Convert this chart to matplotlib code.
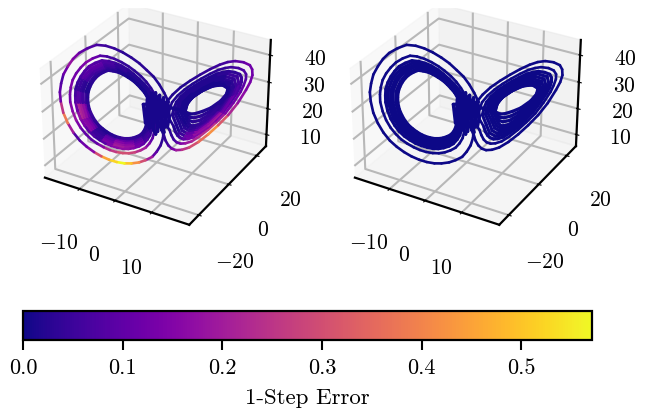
import numpy as np
import matplotlib
matplotlib.use("Agg")
import matplotlib.pyplot as plt
from matplotlib.cm import ScalarMappable
from matplotlib.colors import Normalize
from matplotlib.patches import Rectangle
from matplotlib.transforms import ScaledTranslation
from mpl_toolkits.mplot3d.art3d import Line3DCollection

plt.rcParams["font.family"] = "cmr10"
plt.rcParams["mathtext.fontset"] = "cm"
plt.rcParams["axes.unicode_minus"] = False

# attractor path, one row per turn (left lobe, right lobe, centre passes)
traj_x = [
    1.4, 1.3, 0.8, 0.0, -0.9, -2.2, -3.5, -5.0, -6.4, -7.9, -9.4, -10.9, -12.3, -13.7, -15.0, -16.2, -17.2, -18.0, -18.4, -18.5, -18.2, -17.7, -16.8, -15.8, -14.6, -13.0, -11.3, -9.6, -8.0, -6.4, -4.8, -3.3, -1.9, -0.6, 0.5, 1.5, 2.4,
    -0.3, -0.5, -0.8, -1.4, -2.2, -3.2, -4.3, -5.5, -6.7, -8.0, -9.2, -10.4, -11.6, -12.8, -13.8, -14.8, -15.6, -16.2, -16.6, -16.6, -16.4, -16.0, -15.3, -14.4, -13.4, -12.1, -10.7, -9.4, -8.0, -6.7, -5.4, -4.2, -3.0, -2.0, -1.1, -0.3, 0.5,
    -1.3, -1.4, -1.7, -2.2, -2.9, -3.7, -4.7, -5.7, -6.7, -7.7, -8.8, -9.9, -10.9, -11.9, -12.8, -13.6, -14.3, -14.8, -15.1, -15.1, -15.0, -14.6, -14.0, -13.3, -12.5, -11.4, -10.2, -9.0, -7.9, -6.7, -5.6, -4.6, -3.6, -2.7, -1.9, -1.2, -0.6,
    -1.6, -2.0, -3.1, -4.8, -6.7, -8.7, -10.6, -12.4, -13.8, -14.6, -14.5, -13.6, -12.1, -9.9, -7.8, -5.7, -3.7, -2.2, -0.9,
    -1.8, -2.2, -3.3, -4.9, -6.7, -8.5, -10.3, -12.0, -13.4, -14.1, -14.0, -13.1, -11.8, -9.7, -7.7, -5.7, -3.9, -2.4, -1.2,
    -2.1, -2.5, -3.5, -5.0, -6.7, -8.4, -10.1, -11.6, -12.9, -13.6, -13.5, -12.7, -11.4, -9.5, -7.6, -5.7, -4.0, -2.7, -1.6,
    -2.3, -2.6, -3.6, -5.0, -6.5, -8.1, -9.7, -11.2, -12.4, -13.0, -12.9, -12.1, -11.0, -9.2, -7.4, -5.7, -4.1, -2.8, -1.8,
    -2.6, -2.7, -2.9, -3.2, -3.7, -4.3, -5.0, -5.7, -6.5, -7.3, -8.0, -8.7, -9.4, -10.1, -10.8, -11.4, -11.9, -12.3, -12.5, -12.5, -12.4, -12.1, -11.7, -11.2, -10.6, -9.8, -9.0, -8.2, -7.3, -6.5, -5.7, -4.9, -4.2, -3.6, -3.0, -2.5, -2.1,
    1.4, 1.8, 2.4, 3.1, 4.0, 5.2, 6.7, 8.6, 10.6, 12.6, 14.6, 16.5, 18.1, 18.9, 19.3, 19.2, 18.7, 17.4, 15.7, 14.2, 12.6, 10.7, 8.7, 6.7, 4.8, 3.2, 2.0, 1.3, 1.0,
    2.6, 3.0, 3.5, 4.1, 4.9, 5.9, 7.2, 8.8, 10.5, 12.2, 14.0, 15.6, 17.0, 17.6, 18.0, 18.0, 17.5, 16.4, 14.9, 13.7, 12.3, 10.7, 8.9, 7.2, 5.6, 4.2, 3.1, 2.6, 2.3,
    3.5, 3.8, 4.3, 4.8, 5.5, 6.4, 7.5, 8.9, 10.5, 12.0, 13.5, 14.9, 16.2, 16.8, 17.1, 17.1, 16.7, 15.7, 14.4, 13.3, 12.0, 10.6, 9.1, 7.6, 6.1, 4.9, 4.0, 3.5, 3.2,
    4.0, 4.7, 5.9, 7.7, 10.5, 13.3, 15.7, 16.6, 16.2, 14.1, 11.9, 9.1, 6.4, 4.5, 3.8,
    4.6, 5.2, 6.2, 8.0, 10.5, 13.0, 15.3, 16.0, 15.6, 13.7, 11.7, 9.2, 6.7, 5.0, 4.3,
    5.1, 5.7, 6.6, 8.2, 10.4, 12.8, 14.8, 15.5, 15.1, 13.4, 11.6, 9.3, 7.1, 5.4, 4.9,
    5.5, 6.1, 6.9, 8.3, 10.4, 12.5, 14.4, 15.0, 14.7, 13.1, 11.5, 9.4, 7.3, 5.9, 5.3,
    6.0, 6.2, 6.5, 6.8, 7.2, 7.8, 8.5, 9.4, 10.4, 11.4, 12.3, 13.2, 14.0, 14.4, 14.6, 14.5, 14.3, 13.6, 12.8, 12.1, 11.4, 10.4, 9.5, 8.5, 7.6, 6.9, 6.3, 6.0, 5.8,
    6.0, 6.6, 7.4, 8.8, 10.6, 12.5, 14.1, 14.5, 14.0, 12.6, 11.3, 9.4, 7.4, 6.2, 5.8,
    6.0, 6.7, 7.6, 9.0, 10.8, 12.8, 14.2, 14.5, 13.7, 12.3, 11.2, 9.2, 7.2, 6.0, 5.7,
    6.0, 6.8, 7.7, 9.3, 11.0, 13.0, 14.2, 14.4, 13.3, 12.1, 11.0, 9.1, 7.1, 5.9, 5.7,
    3.0, -1.0, 0.0, 1.0, 1.5, 1.0, 0.4, -0.4, 0.5, 1.5, 2.2, 2.6, 1.8, -1.0, -0.2, 0.3, -0.4, -1.0,
    -2.6, -2.2, -1.8, -1.4, -1.0, -0.6, -0.2, 0.2, 0.6, 1.0, 1.4, 1.8, 2.2, 2.6,
]
traj_z = [
    16.2, 13.0, 10.1, 7.8, 5.9, 4.8, 4.1, 3.9, 4.1, 4.8, 5.9, 7.4, 9.2, 11.4, 13.9, 17.1, 20.7, 24.7, 28.9, 32.3, 35.4, 38.6, 41.4, 43.9, 45.9, 47.4, 48.4, 47.9, 46.8, 45.2, 43.2, 41.0, 38.4, 35.9, 33.0, 29.8, 26.3,
    18.1, 15.5, 13.1, 11.2, 9.6, 8.7, 8.1, 7.9, 8.1, 8.7, 9.6, 10.8, 12.3, 14.1, 16.2, 18.8, 21.7, 25.0, 28.5, 31.3, 33.8, 36.4, 38.7, 40.7, 42.4, 43.7, 44.5, 44.1, 43.1, 41.8, 40.2, 38.4, 36.3, 34.2, 31.8, 29.2, 26.3,
    19.3, 17.0, 15.0, 13.5, 12.1, 11.3, 10.8, 10.6, 10.8, 11.3, 12.1, 13.1, 14.4, 15.9, 17.7, 19.9, 22.4, 25.2, 28.2, 30.5, 32.7, 34.9, 36.9, 38.6, 40.1, 41.1, 41.8, 41.4, 40.7, 39.6, 38.2, 36.6, 34.8, 33.0, 31.1, 28.8, 26.4,
    19.7, 15.7, 12.9, 11.7, 11.7, 12.9, 15.1, 18.2, 22.7, 28.1, 32.4, 36.3, 39.3, 41.0, 39.9, 37.5, 34.4, 30.8, 26.4,
    20.1, 16.3, 13.7, 12.6, 12.6, 13.7, 15.8, 18.7, 22.9, 28.0, 32.0, 35.7, 38.5, 40.1, 39.1, 36.9, 33.9, 30.5, 26.4,
    20.5, 17.0, 14.6, 13.5, 13.5, 14.6, 16.5, 19.2, 23.1, 27.9, 31.7, 35.1, 37.8, 39.2, 38.3, 36.2, 33.4, 30.3, 26.4,
    20.9, 17.6, 15.4, 14.4, 14.4, 15.4, 17.2, 19.7, 23.4, 27.8, 31.3, 34.5, 37.0, 38.3, 37.5, 35.5, 32.9, 30.0, 26.4,
    21.3, 19.7, 18.3, 17.2, 16.2, 15.7, 15.3, 15.2, 15.3, 15.7, 16.2, 16.9, 17.8, 18.9, 20.2, 21.8, 23.6, 25.6, 27.7, 29.4, 31.0, 32.6, 34.0, 35.2, 36.2, 37.0, 37.5, 37.2, 36.7, 35.9, 34.9, 33.8, 32.5, 31.2, 29.8, 28.1, 26.4,
    14.4, 11.9, 9.9, 8.6, 7.9, 7.9, 8.6, 10.5, 13.2, 16.4, 20.0, 24.3, 29.0, 31.8, 34.3, 36.4, 38.0, 39.2, 39.8, 39.6, 38.8, 37.4, 35.6, 33.6, 31.4, 28.9, 26.3, 23.3, 20.2,
    15.9, 13.8, 12.0, 10.9, 10.3, 10.3, 10.9, 12.6, 14.9, 17.6, 20.7, 24.5, 28.4, 30.8, 33.0, 34.8, 36.2, 37.2, 37.7, 37.5, 36.9, 35.7, 34.1, 32.4, 30.5, 28.4, 26.1, 23.5, 20.9,
    16.9, 15.1, 13.5, 12.6, 12.0, 12.0, 12.5, 14.0, 16.0, 18.5, 21.2, 24.5, 28.0, 30.1, 32.1, 33.6, 34.9, 35.7, 36.2, 36.0, 35.5, 34.4, 33.1, 31.6, 29.9, 28.0, 26.0, 23.8, 21.4,
    17.6, 14.4, 13.0, 13.5, 16.7, 21.5, 27.8, 31.5, 34.1, 35.4, 34.7, 32.4, 29.5, 25.9, 21.6,
    18.2, 15.3, 14.1, 14.5, 17.4, 21.8, 27.6, 31.0, 33.3, 34.5, 33.8, 31.8, 29.1, 25.8, 21.9,
    18.9, 16.2, 15.1, 15.5, 18.2, 22.1, 27.3, 30.4, 32.5, 33.6, 33.0, 31.1, 28.7, 25.8, 22.2,
    19.4, 17.0, 15.9, 16.3, 18.7, 22.3, 27.1, 29.9, 31.9, 32.8, 32.3, 30.6, 28.4, 25.7, 22.5,
    19.9, 18.8, 17.8, 17.2, 16.8, 16.9, 17.1, 18.0, 19.3, 20.9, 22.6, 24.7, 26.9, 28.2, 29.5, 30.4, 31.2, 31.8, 32.1, 32.0, 31.6, 30.9, 30.1, 29.1, 28.1, 26.9, 25.6, 24.2, 22.7,
    20.6, 18.9, 18.3, 18.7, 20.5, 23.6, 27.3, 29.7, 31.2, 32.0, 31.5, 30.0, 27.9, 25.4, 22.6,
    21.3, 20.1, 19.8, 20.3, 21.8, 24.5, 27.6, 29.9, 31.3, 31.7, 31.2, 29.8, 27.6, 25.0, 22.5,
    22.0, 21.3, 21.3, 22.0, 23.1, 25.5, 28.0, 30.0, 31.3, 31.3, 31.0, 29.6, 27.3, 24.7, 22.5,
    24.0, 30.0, 25.0, 20.0, 15.0, 19.0, 24.0, 29.0, 28.0, 22.0, 17.0, 21.0, 26.0, 18.0, 14.5, 18.0, 22.0, 26.0,
    26.0, 19.0, 28.0, 17.0, 29.0, 16.0, 30.0, 15.5, 29.0, 16.0, 28.0, 17.0, 27.0, 19.0,
]
# 1-step error of the left panel along the path
err_left = [
    0.02, 0.03, 0.05, 0.10, 0.20, 0.30, 0.42, 0.50, 0.57, 0.52, 0.45, 0.30, 0.16, 0.12, 0.08, 0.20, 0.38, 0.25, 0.12, 0.10, 0.08, 0.12, 0.18, 0.14, 0.10, 0.08, 0.06, 0.05, 0.04, 0.03, 0.03, 0.03, 0.03, 0.02, 0.02, 0.02, 0.02,
    0.05, 0.07, 0.10, 0.15, 0.20, 0.24, 0.28, 0.30, 0.30, 0.26, 0.22, 0.16, 0.10, 0.10, 0.10, 0.14, 0.18, 0.15, 0.12, 0.13, 0.14, 0.13, 0.12, 0.14, 0.15, 0.11, 0.08, 0.06, 0.05, 0.04, 0.04, 0.03, 0.03, 0.03, 0.03, 0.03, 0.03,
    0.03, 0.04, 0.05, 0.08, 0.10, 0.13, 0.15, 0.17, 0.17, 0.16, 0.14, 0.09, 0.05, 0.07, 0.10, 0.14, 0.17, 0.12, 0.08, 0.06, 0.04, 0.05, 0.07, 0.08, 0.09, 0.08, 0.08, 0.06, 0.05, 0.04, 0.03, 0.02, 0.02, 0.02, 0.02, 0.02, 0.02,
    0.03, 0.06, 0.12, 0.18, 0.20, 0.14, 0.05, 0.16, 0.22, 0.09, 0.05, 0.09, 0.10, 0.07, 0.04, 0.03, 0.02, 0.02, 0.02,
    0.03, 0.05, 0.10, 0.16, 0.18, 0.12, 0.05, 0.15, 0.20, 0.08, 0.04, 0.08, 0.09, 0.06, 0.04, 0.02, 0.02, 0.02, 0.02,
    0.02, 0.04, 0.08, 0.13, 0.15, 0.10, 0.04, 0.13, 0.17, 0.06, 0.03, 0.06, 0.07, 0.05, 0.03, 0.02, 0.02, 0.02, 0.01,
    0.02, 0.03, 0.06, 0.09, 0.11, 0.07, 0.03, 0.09, 0.12, 0.05, 0.02, 0.04, 0.05, 0.04, 0.02, 0.02, 0.01, 0.01, 0.01,
    0.01, 0.015, 0.02, 0.025, 0.03, 0.035, 0.04, 0.045, 0.05, 0.04, 0.03, 0.025, 0.02, 0.025, 0.03, 0.04, 0.05, 0.04, 0.03, 0.025, 0.02, 0.025, 0.03, 0.03, 0.03, 0.03, 0.03, 0.025, 0.02, 0.015, 0.01, 0.01, 0.01, 0.01, 0.01, 0.01, 0.01,
    0.03, 0.05, 0.08, 0.14, 0.20, 0.25, 0.30, 0.36, 0.42, 0.32, 0.22, 0.17, 0.14, 0.13, 0.12, 0.12, 0.12, 0.10, 0.08, 0.06, 0.05, 0.04, 0.03, 0.02, 0.02, 0.02, 0.02, 0.02, 0.02,
    0.03, 0.04, 0.06, 0.10, 0.15, 0.19, 0.22, 0.24, 0.25, 0.20, 0.14, 0.12, 0.10, 0.09, 0.08, 0.07, 0.07, 0.06, 0.05, 0.04, 0.03, 0.02, 0.02, 0.02, 0.02, 0.02, 0.02, 0.02, 0.02,
    0.02, 0.03, 0.04, 0.07, 0.10, 0.13, 0.15, 0.16, 0.16, 0.13, 0.10, 0.08, 0.07, 0.06, 0.05, 0.045, 0.04, 0.035, 0.03, 0.025, 0.02, 0.02, 0.02, 0.02, 0.02, 0.02, 0.02, 0.02, 0.02,
    0.02, 0.05, 0.12, 0.18, 0.20, 0.12, 0.08, 0.06, 0.05, 0.03, 0.02, 0.02, 0.02, 0.02, 0.02,
    0.02, 0.04, 0.10, 0.16, 0.17, 0.10, 0.06, 0.05, 0.04, 0.02, 0.02, 0.02, 0.02, 0.02, 0.01,
    0.02, 0.03, 0.06, 0.09, 0.10, 0.06, 0.04, 0.03, 0.03, 0.02, 0.02, 0.02, 0.01, 0.01, 0.01,
    0.01, 0.02, 0.04, 0.06, 0.07, 0.04, 0.03, 0.03, 0.02, 0.02, 0.01, 0.01, 0.01, 0.01, 0.01,
    0.01, 0.015, 0.02, 0.025, 0.03, 0.035, 0.04, 0.045, 0.05, 0.04, 0.03, 0.025, 0.02, 0.02, 0.02, 0.015, 0.02, 0.015, 0.01, 0.01, 0.01, 0.01, 0.01, 0.01, 0.01, 0.01, 0.01, 0.01, 0.01,
    0.01, 0.02, 0.03, 0.04, 0.04, 0.03, 0.02, 0.02, 0.02, 0.01, 0.01, 0.01, 0.01, 0.01, 0.01,
    0.01, 0.02, 0.03, 0.03, 0.03, 0.02, 0.02, 0.02, 0.01, 0.01, 0.01, 0.01, 0.01, 0.01, 0.01,
    0.01, 0.01, 0.02, 0.02, 0.02, 0.02, 0.01, 0.01, 0.01, 0.01, 0.01, 0.01, 0.01, 0.01, 0.01,
    0.01, 0.01, 0.01, 0.01, 0.01, 0.01, 0.01, 0.01, 0.01, 0.01, 0.01, 0.01, 0.01, 0.01, 0.01, 0.01, 0.01, 0.01,
    0.01, 0.01, 0.01, 0.01, 0.01, 0.01, 0.01, 0.01, 0.01, 0.01, 0.01, 0.01, 0.01, 0.01,
]
turn_lengths = [37, 37, 37, 19, 19, 19, 19, 37, 29, 29, 29, 15, 15, 15, 15, 29, 15, 15, 15, 18, 14]
err_right_level = 0.002  # right panel reads as flat dark blue
err_max = 0.571

x_ticks = [-10, 0, 10]
y_ticks = [-20, 0, 20]
z_ticks = [10, 20, 30, 40]
cbar_ticks = [0.0, 0.1, 0.2, 0.3, 0.4, 0.5]
W, H = 645, 413


def px_rect(left, top, width, height):
    return [left / W, 1 - (top + height) / H, width / W, height / H]


def draw_attractor(ax, errors):
    x = np.array(traj_x)
    z = np.array(traj_z)
    starts = np.cumsum([0] + turn_lengths)
    # open the left hole up a bit, inner turns came out too tight
    for turn, spread in zip(range(2, 8), [1.06, 1.07, 1.08, 1.10, 1.12, 1.15]):
        s = slice(starts[turn], starts[turn + 1])
        x[s] = -7.5 + (x[s] + 7.5) * spread
        z[s] = 26.5 + (z[s] - 26.5) * spread
    # nudge to line the lobes up with the picture
    x[x > 0] *= 0.96
    pts = np.column_stack([x, x, z + 1.8])
    segs = np.stack([pts[:-1], pts[1:]], axis=1)
    # outer turns stay single lines, the rest merge into a band
    widths = np.full(len(segs), 2.3)
    for turn in (0, 1, 8, 9):
        widths[starts[turn]:starts[turn + 1]] = 1.9
    lc = Line3DCollection(segs, cmap="plasma", norm=norm, linewidths=widths, capstyle="round")
    lc.set_array(np.asarray(errors)[:-1])
    ax.add_collection3d(lc)
    ax.set_xlim(-20, 20)
    ax.set_ylim(-26, 27)
    ax.set_zlim(5.5, 45.5)
    ax.set_xticks(x_ticks, [f"${t}$" for t in x_ticks])
    ax.set_yticks(y_ticks, [f"${t}$" for t in y_ticks])
    ax.set_zticks(z_ticks, [f"${t}$" for t in z_ticks])
    ax.tick_params(labelsize=15.5)
    ax.tick_params(axis="x", pad=15)
    ax.tick_params(axis="y", pad=15)
    ax.tick_params(axis="z", pad=12)
    # y and z labels sit a few px higher than the default spot
    for axis in (ax.yaxis, ax.zaxis):
        for t in axis.get_ticklabels():
            t.set_transform(t.get_transform() + ScaledTranslation(0, 0.05, fig.dpi_scale_trans))
    for axis in (ax.xaxis, ax.yaxis, ax.zaxis):
        axis.line.set_linewidth(1.6)
        axis._axinfo["grid"]["linewidth"] = 1.5
        axis._axinfo["grid"]["color"] = "#b8b8b8"


norm = Normalize(0, err_max)
fig = plt.figure(figsize=(W / 100, H / 100), dpi=100)

ax_left = fig.add_axes(px_rect(23, -16, 262, 257), projection="3d")
draw_attractor(ax_left, err_left)
ax_right = fig.add_axes(px_rect(333, -16, 262, 257), projection="3d")
draw_attractor(ax_right, np.full(len(traj_x), err_right_level))

# the reference is cropped just above the panes
fig.add_artist(Rectangle((0, 1 - 7 / H), 1, 7 / H, transform=fig.transFigure, color="white", zorder=10))

cax = fig.add_axes(px_rect(23, 311, 569, 29))
cb = fig.colorbar(ScalarMappable(norm=norm, cmap="plasma"), cax=cax, orientation="horizontal")
cb.set_ticks(cbar_ticks, labels=[f"{t:.1f}" for t in cbar_ticks])
cb.ax.tick_params(labelsize=16, width=1.5, length=7, pad=6)
cb.outline.set_linewidth(1.6)
cb.set_label("1-Step Error", fontsize=16.5, labelpad=8)

plt.savefig("out.png", dpi=100)
